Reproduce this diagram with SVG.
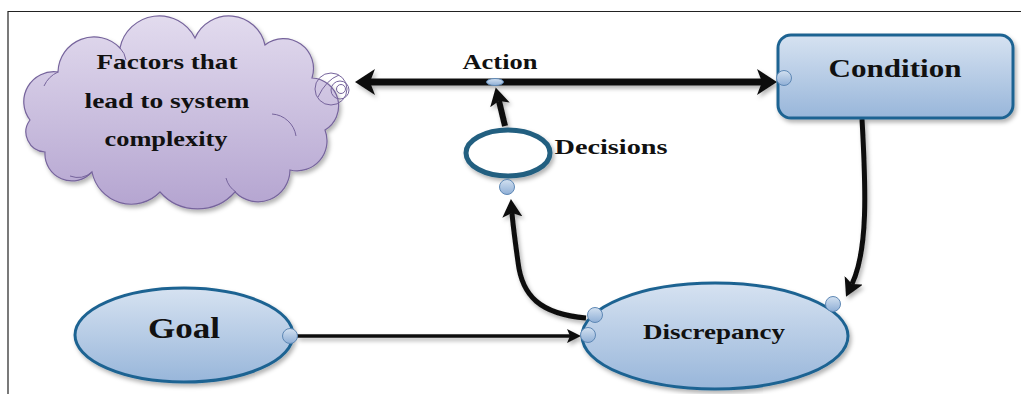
<svg xmlns="http://www.w3.org/2000/svg" width="1021" height="394" viewBox="0 0 1021 394">
  <defs>
    <linearGradient id="gBlue" x1="0" y1="0" x2="0" y2="1">
      <stop offset="0" stop-color="#d6e2f1"/>
      <stop offset="1" stop-color="#98b6da"/>
    </linearGradient>
    <linearGradient id="gDot" x1="0" y1="0" x2="0" y2="1">
      <stop offset="0" stop-color="#d2e0f0"/>
      <stop offset="1" stop-color="#8fafd6"/>
    </linearGradient>
    <linearGradient id="gCloud" x1="0" y1="0" x2="0" y2="1">
      <stop offset="0" stop-color="#e2dbee"/>
      <stop offset="1" stop-color="#b4a4d0"/>
    </linearGradient>
    <filter id="shadow" x="-10%" y="-10%" width="125%" height="135%">
      <feDropShadow dx="2" dy="3" stdDeviation="2" flood-color="#000" flood-opacity="0.3"/>
    </filter>
    <!-- arrowheads: refX sits at the notch so the tip runs past the line end -->
    <marker id="headBig" markerUnits="userSpaceOnUse" viewBox="0 0 20 26" markerWidth="20" markerHeight="26" refX="5" refY="13" orient="auto-start-reverse">
      <path d="M0,0 L20,13 L0,26 L5,13 Z" fill="#111"/>
    </marker>
    <marker id="headMid" markerUnits="userSpaceOnUse" viewBox="0 0 18 20" markerWidth="18" markerHeight="20" refX="4" refY="10" orient="auto">
      <path d="M0,0 L18,10 L0,20 L4,10 Z" fill="#111"/>
    </marker>
    <marker id="headSmall" markerUnits="userSpaceOnUse" viewBox="0 0 14 14" markerWidth="14" markerHeight="14" refX="3" refY="7" orient="auto">
      <path d="M0,0 L14,7 L0,14 L3,7 Z" fill="#111"/>
    </marker>
  </defs>
  <style>
    .frame { stroke: #222; stroke-width: 1.2; fill: none; }
    .node { fill: url(#gBlue); stroke: #1f6392; stroke-width: 3; filter: url(#shadow); }
    .dot { fill: url(#gDot); stroke: #5e88b5; stroke-width: 1; }
    .cloud { fill: url(#gCloud); stroke: #76649c; stroke-width: 1.2; filter: url(#shadow); }
    .cloudline { fill: none; stroke: #76649c; stroke-width: 1; }
    .label { font-family: "Liberation Serif", "Times New Roman", serif; font-weight: bold; fill: #111; text-anchor: middle; }
    .link { fill: none; stroke: #111; }
    .connectors { filter: url(#shadow); }
  </style>

  <rect width="1021" height="394" fill="#fff"/>
  <!-- page frame -->
  <path class="frame" d="M8 394 V11.5 H1021"/>

  <!-- cloud -->
  <g id="factors">
    <path class="cloud" d="M30 120 A30 30 0 0 1 58 72 A36 36 0 0 1 120 48 A40 40 0 0 1 195 38 A37 37 0 0 1 265 45 A30 30 0 0 1 312 78 A28 28 0 0 1 325 130 A30 30 0 0 1 290 170 A32 32 0 0 1 235 192 A50 50 0 0 1 160 192 A40 40 0 0 1 92 172 A27 27 0 0 1 45 152 A20 20 0 0 1 30 120 Z"/>
    <path class="cloudline" d="M44 86 A28 28 0 0 1 58 72"/>
    <path class="cloudline" d="M120 48 A22 22 0 0 1 126 60"/>
    <path class="cloudline" d="M272 114 A26 26 0 0 1 296 136"/>
    <path class="cloudline" d="M70 176 A22 22 0 0 0 92 172"/>
    <path class="cloudline" d="M236 192 A24 24 0 0 1 226 178"/>
    <circle class="cloudline" cx="331" cy="89" r="16"/>
    <circle class="cloudline" cx="340" cy="90" r="9"/>
    <circle class="cloudline" cx="341" cy="89" r="4.5"/>
    <path class="cloudline" d="M318 97 Q326 80 339 75"/>
    <text class="label" font-size="21.5" x="167" y="69" textLength="141" lengthAdjust="spacingAndGlyphs">Factors that</text>
    <text class="label" font-size="21.5" x="167" y="108" textLength="165" lengthAdjust="spacingAndGlyphs">lead to system</text>
    <text class="label" font-size="21.5" x="166" y="146" textLength="123" lengthAdjust="spacingAndGlyphs">complexity</text>
  </g>

  <!-- connectors -->
  <g id="connectors" class="connectors">
    <path class="link" stroke-width="7" d="M370 82 H762" marker-start="url(#headBig)" marker-end="url(#headBig)"/>
    <path class="link" stroke-width="6" d="M505 126 L499 101" marker-end="url(#headMid)"/>
    <path class="link" stroke-width="5" d="M586 318 C540 314 522 296 518 262 C515 240 513 226 512 213" marker-end="url(#headMid)"/>
    <path class="link" stroke-width="5" d="M862 119 C866 190 868 250 852 284" marker-end="url(#headMid)"/>
    <path class="link" stroke-width="3.5" d="M297 336 H570" marker-end="url(#headSmall)"/>
  </g>

  <!-- action point on the main line -->
  <g id="action">
    <ellipse class="dot" cx="495" cy="82" rx="8.5" ry="3.5"/>
    <text class="label" font-size="20" x="500" y="69" textLength="75" lengthAdjust="spacingAndGlyphs">Action</text>
  </g>

  <g id="condition">
    <rect class="node" x="778" y="35" width="235" height="83" rx="13"/>
    <text class="label" font-size="26" x="895" y="77" textLength="133" lengthAdjust="spacingAndGlyphs">Condition</text>
    <circle class="dot" cx="784" cy="78" r="7.5"/>
  </g>

  <g id="decisions">
    <ellipse cx="508" cy="153" rx="42" ry="23" fill="#fff" stroke="#245f80" stroke-width="5" filter="url(#shadow)"/>
    <circle class="dot" cx="507" cy="187" r="7.5"/>
    <text class="label" font-size="22" x="611" y="154" textLength="113" lengthAdjust="spacingAndGlyphs">Decisions</text>
  </g>

  <g id="goal">
    <ellipse class="node" cx="184" cy="335" rx="109" ry="47"/>
    <text class="label" font-size="29" x="184" y="338" textLength="72" lengthAdjust="spacingAndGlyphs">Goal</text>
    <circle class="dot" cx="290" cy="336" r="7.5"/>
  </g>

  <g id="discrepancy">
    <ellipse class="node" cx="715" cy="336" rx="133" ry="53"/>
    <text class="label" font-size="21" x="714" y="339" textLength="142" lengthAdjust="spacingAndGlyphs">Discrepancy</text>
    <circle class="dot" cx="595" cy="315" r="7.5"/>
    <circle class="dot" cx="588" cy="335" r="7.5"/>
    <circle class="dot" cx="833" cy="304" r="7.5"/>
  </g>
</svg>
